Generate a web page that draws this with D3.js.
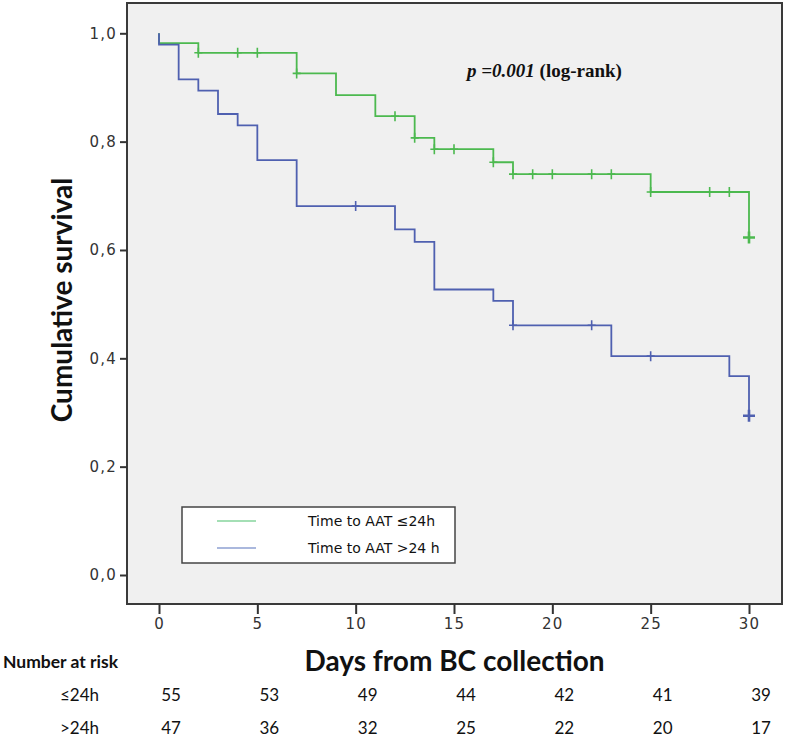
<!DOCTYPE html>
<html><head><meta charset="utf-8">
<script src="https://cdn.jsdelivr.net/npm/d3@7"></script>
<style>body{margin:0;background:#fff}svg{display:block}</style>
</head><body>
<svg id="c" width="787" height="739"></svg>
<script>
// ---- data ----
const groups = ["Time to AAT \u226424h", "Time to AAT >24 h"];
const greenStepTimes = [0, 2, 7, 9, 11, 13, 14, 17, 18, 25, 30];
const greenStepSurv  = [0.982, 0.964, 0.926, 0.886, 0.847, 0.807, 0.786, 0.762, 0.740, 0.707, 0.623];
const greenCensor    = [2, 4, 5, 7, 12, 13, 14, 15, 17, 18, 19, 20, 22, 23, 25, 28, 29, 30];
const blueStepTimes  = [0, 1, 2, 3, 4, 5, 7, 12, 13, 14, 17, 18, 23, 29, 30];
const blueStepSurv   = [0.979, 0.915, 0.894, 0.851, 0.830, 0.766, 0.681, 0.638, 0.615, 0.527, 0.506, 0.461, 0.404, 0.367, 0.294];
const blueCensor     = [10, 18, 22, 25, 30];
const xTicks = [0, 5, 10, 15, 20, 25, 30];
const yTicks = [0, 0.2, 0.4, 0.6, 0.8, 1.0];
const riskTimes = [0, 5, 10, 15, 20, 25, 30];
const riskLabels = ["\u226424h", ">24h"];
const riskLe24 = [55, 53, 49, 44, 42, 41, 39];
const riskGt24 = [47, 36, 32, 25, 22, 20, 17];

const GREEN = "#4cb94f", BLUE = "#4f60b0";
const svg = d3.select("#c");
const L = 127, R = 782, T = 3, B = 604;
const x = d3.scaleLinear().domain([0, 30]).range([159, 749]);
const y = d3.scaleLinear().domain([0, 1]).range([575, 33.3]);

svg.append("rect").attr("x", L).attr("y", T).attr("width", R - L).attr("height", B - T)
  .attr("fill", "#f0f0f0").attr("stroke", "#3a3a3a").attr("stroke-width", 2);

// axes
const yAx = svg.append("g").attr("transform", `translate(${L},0)`)
  .call(d3.axisLeft(y).tickValues(yTicks).tickSize(7).tickPadding(3)
    .tickFormat(d => d3.format(".1f")(d).replace(".", ",")));
const xAx = svg.append("g").attr("transform", `translate(0,${B})`)
  .call(d3.axisBottom(x).tickValues(xTicks).tickSize(10).tickPadding(4));
[yAx, xAx].forEach(g => {
  g.select(".domain").remove();
  g.selectAll("line").attr("stroke", "#333").attr("stroke-width", 2);
  g.selectAll("text").attr("fill", "#333").style("font-family", "DejaVu Sans")
    .style("font-size", "15px").style("letter-spacing", "1.2px");
});

// curves
function series(times, surv) {
  const pts = [[0, 1]];
  times.forEach((t, i) => pts.push([t, surv[i]]));
  return pts;
}
function survAt(times, surv, t) {
  let s = 1;
  times.forEach((tt, i) => { if (tt <= t) s = surv[i]; });
  return s;
}
const line = d3.line().x(d => x(d[0])).y(d => y(d[1])).curve(d3.curveStepAfter);
const defs = [
  {times: greenStepTimes, surv: greenStepSurv, cens: greenCensor, color: GREEN},
  {times: blueStepTimes, surv: blueStepSurv, cens: blueCensor, color: BLUE}
];
defs.forEach(s => {
  svg.append("path").attr("d", line(series(s.times, s.surv)))
    .attr("fill", "none").attr("stroke", s.color).attr("stroke-width", 1.8);
  svg.append("g").selectAll("path").data(s.cens).join("path")
    .attr("d", t => {
      const cx = x(t), cy = y(survAt(s.times, s.surv, t));
      const big = t === 30;
      const w = big ? 6 : 4, h = big ? 6 : 5;
      return `M${cx - w},${cy}H${cx + w}M${cx},${cy - h}V${cy + h}`;
    })
    .attr("stroke", s.color).attr("stroke-width", t => t === 30 ? 2.6 : 1.6).attr("fill", "none");
});

// p-value
const pt = svg.append("text").attr("x", 467).attr("y", 77)
  .style("font-family", "Liberation Serif").style("font-size", "19px").style("font-weight", "bold").attr("fill", "#111");
pt.append("tspan").style("font-style", "italic").text("p =0.001");
pt.append("tspan").text(" (log-rank)");

// legend
svg.append("rect").attr("x", 182).attr("y", 507).attr("width", 273).attr("height", 56)
  .attr("fill", "#fff").attr("stroke", "#444").attr("stroke-width", 1.5);
const legColors = ["#86d59c", "#8ea0d2"];
groups.forEach((g, i) => {
  const yy = 521 + i * 27;
  svg.append("line").attr("x1", 217).attr("x2", 256).attr("y1", yy).attr("y2", yy)
    .attr("stroke", legColors[i]).attr("stroke-width", 1.6);
  svg.append("text").attr("x", 308).attr("y", yy + 5).text(g)
    .style("font-family", "DejaVu Sans").style("font-size", "14px").attr("fill", "#111");
});

// axis titles
svg.append("text").attr("transform", "translate(72,300) rotate(-90)").attr("text-anchor", "middle")
  .text("Cumulative survival").style("font-family", "Lato").style("font-weight", "bold")
  .style("font-size", "28px").attr("fill", "#111");
svg.append("text").attr("x", (L + R) / 2).attr("y", 671).attr("text-anchor", "middle")
  .text("Days from BC collection").style("font-family", "Lato").style("font-weight", "bold")
  .style("font-size", "28px").attr("fill", "#111");

// number at risk
svg.append("text").attr("x", 3).attr("y", 668).text("Number at risk")
  .style("font-family", "Lato").style("font-weight", "bold").style("font-size", "17.5px").attr("fill", "#111");
[riskLe24, riskGt24].forEach((row, r) => {
  const yy = 701 + r * 33;
  svg.append("text").attr("x", 60).attr("y", yy).text(riskLabels[r])
    .style("font-family", "Lato").style("font-size", "17px").attr("fill", "#111");
  svg.append("g").selectAll("text").data(row).join("text")
    .attr("x", (d, i) => x(riskTimes[i]) + 12).attr("y", yy).attr("text-anchor", "middle")
    .text(d => d).style("font-family", "Lato").style("font-size", "17px").attr("fill", "#111");
});
</script>
</body></html>
